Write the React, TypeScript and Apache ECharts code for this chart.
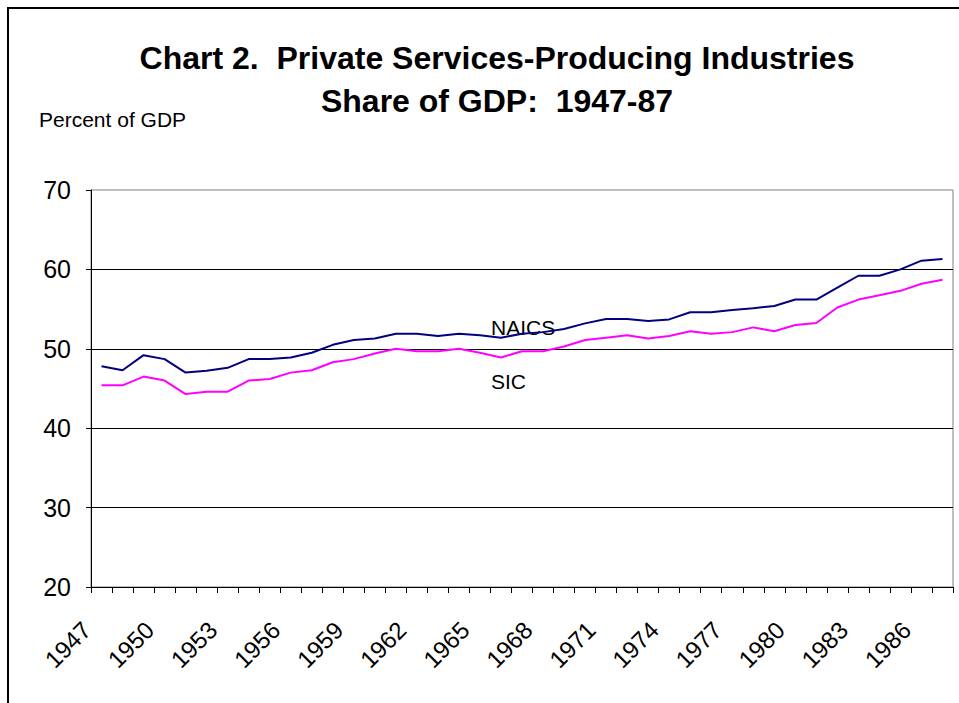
import React, { useEffect, useRef } from "react";
import * as echarts from "echarts";

const years: string[] = [];
for (let y = 1947; y <= 1987; y++) years.push(String(y));

const naics = [
  47.8, 47.3, 49.2, 48.7, 47.0, 47.25, 47.6, 48.7, 48.7, 48.9,
  49.5, 50.5, 51.1, 51.3, 51.9, 51.9, 51.6, 51.9, 51.7, 51.4,
  51.9, 52.1, 52.5, 53.2, 53.75, 53.75, 53.5, 53.7, 54.6, 54.6,
  54.9, 55.1, 55.4, 56.2, 56.2, 57.7, 59.2, 59.2, 60.0, 61.1, 61.3,
];

const sic = [
  45.4, 45.4, 46.5, 46.0, 44.3, 44.6, 44.6, 46.0, 46.2, 47.0,
  47.3, 48.3, 48.7, 49.4, 50.0, 49.7, 49.7, 50.0, 49.5, 48.9,
  49.7, 49.7, 50.3, 51.1, 51.4, 51.7, 51.3, 51.6, 52.2, 51.9,
  52.1, 52.7, 52.2, 53.0, 53.25, 55.2, 56.2, 56.75, 57.3, 58.2, 58.7,
];

const titleLines = ["Chart 2.  Private Services-Producing Industries", "Share of GDP:  1947-87"];
const yAxisName = "Percent of GDP";
const seriesNames = ["NAICS", "SIC"];

export default function App() {
  const ref = useRef<HTMLDivElement>(null);
  useEffect(() => {
    if (!ref.current) return;
    const chart = echarts.init(ref.current, null, { renderer: "svg" });
    const font = "Arial, 'Liberation Sans', sans-serif";
    chart.setOption({
      animation: false,
      backgroundColor: "#ffffff",
      title: {
        text: titleLines.join("\n"),
        left: 492,
        top: 31,
        textAlign: "center",
        textStyle: {
          fontFamily: font,
          fontWeight: "bold",
          fontSize: 32,
          lineHeight: 43,
          color: "#000",
        },
      },
      grid: {
        left: 91,
        right: 6,
        top: 190,
        bottom: 116,
        show: true,
        borderColor: "#808080",
        borderWidth: 1,
        backgroundColor: "transparent",
      },
      xAxis: {
        type: "category",
        data: years,
        boundaryGap: true,
        axisLine: { lineStyle: { color: "#000", width: 1 } },
        axisTick: { show: true, interval: 0, length: 6, lineStyle: { color: "#000" } },
        axisLabel: {
          interval: 2,
          rotate: 45,
          fontFamily: font,
          fontSize: 24,
          color: "#000",
          margin: 24,
          padding: [0, 21, 0, 0],
        },
        splitLine: { show: false },
      },
      yAxis: {
        type: "value",
        min: 20,
        max: 70,
        interval: 10,
        axisLine: { show: true, lineStyle: { color: "#000", width: 1 } },
        axisTick: { show: true, length: 5, lineStyle: { color: "#000" } },
        axisLabel: {
          fontFamily: font,
          fontSize: 25,
          color: "#000",
          margin: 20,
        },
        splitLine: {
          show: true,
          showMaxLine: false,
          lineStyle: { color: "#000", width: 1 },
        },
      },
      graphic: [
        {
          type: "rect",
          shape: { x: 8, y: 8, width: 1200, height: 1200 },
          style: { fill: "none", stroke: "#000", lineWidth: 2 },
          silent: true,
        },
        {
          type: "text",
          left: 39,
          top: 109,
          style: { text: yAxisName, fontFamily: font, fontSize: 21, fill: "#000" },
        },
        {
          type: "text",
          left: 491,
          top: 317,
          style: { text: seriesNames[0], fontFamily: font, fontSize: 21, fill: "#000" },
        },
        {
          type: "text",
          left: 491,
          top: 371,
          style: { text: seriesNames[1], fontFamily: font, fontSize: 21, fill: "#000" },
        },
      ],
      series: [
        {
          name: seriesNames[0],
          type: "line",
          data: naics,
          symbol: "none",
          lineStyle: { color: "#000080", width: 2 },
          itemStyle: { color: "#000080" },
        },
        {
          name: seriesNames[1],
          type: "line",
          data: sic,
          symbol: "none",
          lineStyle: { color: "#FF00FF", width: 2 },
          itemStyle: { color: "#FF00FF" },
        },
      ],
    });
    return () => chart.dispose();
  }, []);
  return (
    <div
      ref={ref}
      style={{ position: "fixed", left: 0, top: 0, width: 959, height: 703, background: "#fff" }}
    />
  );
}
